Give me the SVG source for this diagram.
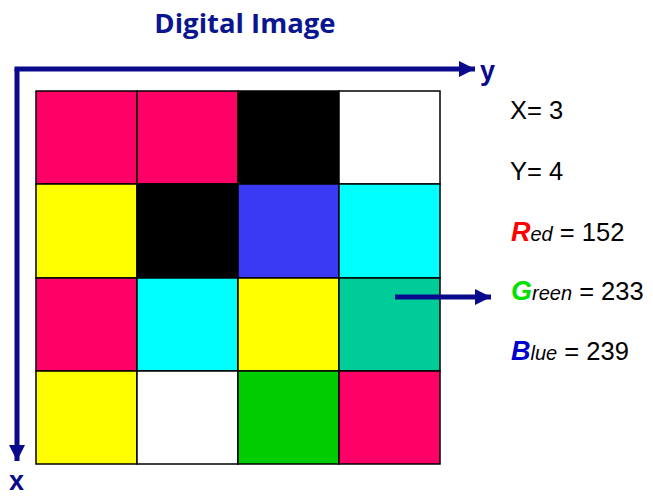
<svg xmlns="http://www.w3.org/2000/svg" width="653" height="496" viewBox="0 0 653 496">
<style>
.cell{stroke:#000;stroke-width:1.5}
.axis{stroke:#0a0a8c;stroke-width:5;fill:none}
.lbl{font-family:"Liberation Sans",Arial,sans-serif;font-size:25.5px;fill:#000}
.ax{font-family:"Liberation Sans",Arial,sans-serif;font-size:27px;font-weight:bold;fill:#0a0a8c}
.big{font-weight:bold;font-style:italic;font-size:27px}
.sm{font-style:italic;font-size:20px}
</style>
<defs>
<marker id="ah" viewBox="0 0 10 10" refX="10" refY="5" markerWidth="3.2" markerHeight="3.2" orient="auto" markerUnits="strokeWidth">
<path d="M0,0 L10,5 L0,10 Z" fill="#0a0a8c"/>
</marker>
</defs>
<rect width="653" height="496" fill="#fff"/>
<text x="245" y="33" text-anchor="middle" font-family="'Open Sans','Liberation Sans',sans-serif" font-weight="bold" font-size="27.5" fill="#0a1690">Digital Image</text>
<g id="grid">
<rect class="cell" x="36" y="91" width="101" height="93" fill="#ff0066"/>
<rect class="cell" x="137" y="91" width="101" height="93" fill="#ff0066"/>
<rect class="cell" x="238" y="91" width="101" height="93" fill="#000"/>
<rect class="cell" x="339" y="91" width="101" height="93" fill="#fff"/>
<rect class="cell" x="36" y="184" width="101" height="94" fill="#ffff00"/>
<rect class="cell" x="137" y="184" width="101" height="94" fill="#000"/>
<rect class="cell" x="238" y="184" width="101" height="94" fill="#3a3af5"/>
<rect class="cell" x="339" y="184" width="101" height="94" fill="#00ffff"/>
<rect class="cell" x="36" y="278" width="101" height="93" fill="#ff0066"/>
<rect class="cell" x="137" y="278" width="101" height="93" fill="#00ffff"/>
<rect class="cell" x="238" y="278" width="101" height="93" fill="#ffff00"/>
<rect class="cell" x="339" y="278" width="101" height="93" fill="#00cc99"/>
<rect class="cell" x="36" y="371" width="101" height="93" fill="#ffff00"/>
<rect class="cell" x="137" y="371" width="101" height="93" fill="#fff"/>
<rect class="cell" x="238" y="371" width="101" height="93" fill="#00cc00"/>
<rect class="cell" x="339" y="371" width="101" height="93" fill="#ff0066"/>
</g>
<g id="connectors">
<path class="axis" d="M14.5,69 L475,69" marker-end="url(#ah)"/>
<path class="axis" d="M17,69 L17,461" marker-end="url(#ah)"/>
<path class="axis" d="M395,297 L491,297" marker-end="url(#ah)"/>
</g>
<g id="labels">
<text class="ax" x="480" y="80">y</text>
<text class="ax" x="9" y="490">x</text>
<text class="lbl" x="510" y="119">X= 3</text>
<text class="lbl" x="510" y="180">Y= 4</text>
<text class="lbl" x="511" y="241"><tspan class="big" fill="#ff0000">R</tspan><tspan class="sm">ed</tspan> = 152</text>
<text class="lbl" x="511" y="300"><tspan class="big" fill="#00e000">G</tspan><tspan class="sm">reen</tspan> = 233</text>
<text class="lbl" x="511" y="360"><tspan class="big" fill="#0000cc">B</tspan><tspan class="sm">lue</tspan> = 239</text>
</g>
</svg>
